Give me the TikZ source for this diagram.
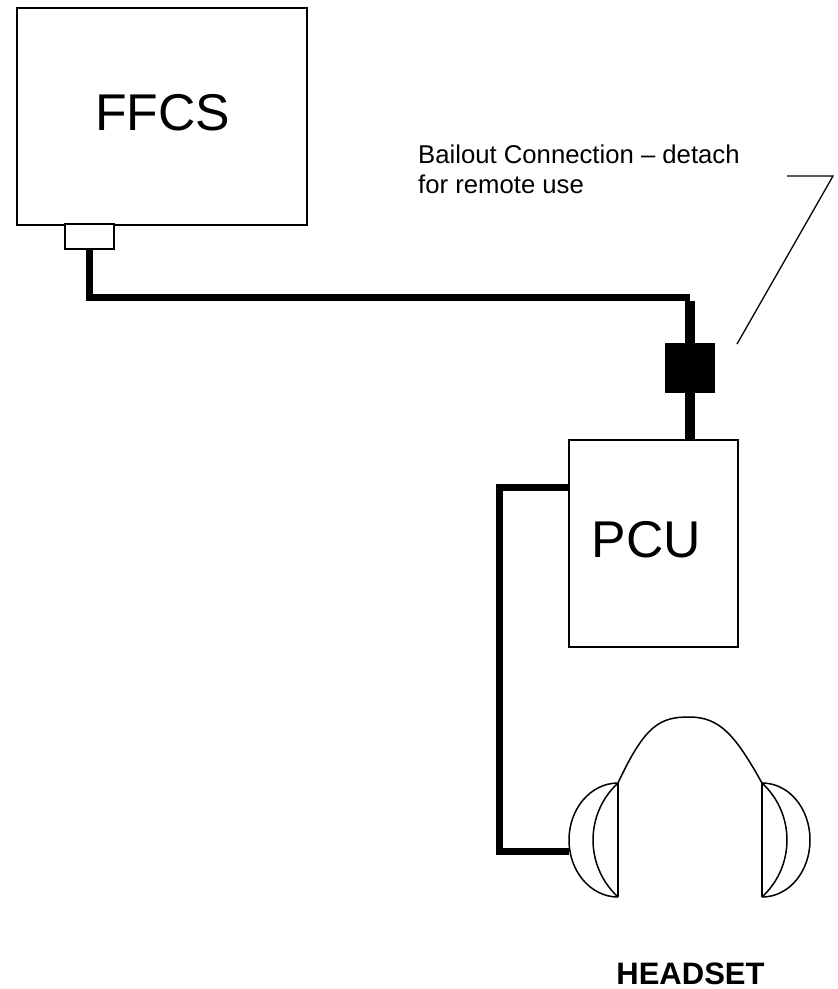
\documentclass[tikz,border=0pt]{standalone}
\usepackage{fontspec}
\setmainfont{Liberation Sans}
\begin{document}
\begin{tikzpicture}[x=1pt,y=-1pt,
  box/.style={draw,line width=1.5pt,fill=white,inner sep=0pt,outer sep=0pt},
  cable/.style={line width=7pt},
  thin/.style={line width=1.3pt},
  phone/.style={line width=1.5pt},
  big/.style={inner sep=0pt,font=\fontsize{51.7}{60}\selectfont},
  note/.style={inner sep=0pt,font=\fontsize{25.7}{30}\selectfont},
  title/.style={inner sep=0pt,font=\bfseries\fontsize{31}{36}\selectfont}]
\useasboundingbox (0,0) rectangle (838,989);
% boxes
\node[box,minimum width=290pt,minimum height=217pt] (ffcs) at (162,116.5) {};
\node[big,anchor=base] (ffcstext) at (162.5,130) {FFCS};
\node[box,minimum width=49pt,minimum height=25pt] (plug) at (89.5,236.5) {};
\node[box,minimum width=169pt,minimum height=207pt] (pcu) at (653.5,543.5) {};
\node[big,anchor=base] (pcutext) at (646.5,557) {PCU};
\node[fill=black,inner sep=0pt,outer sep=0pt,minimum width=50pt,minimum height=50pt] (bailout) at (690,368) {};
% main cable
\coordinate (bend) at (690,297);
\draw[cable] (plug.south) |- (bend);
\draw[line width=10pt] ([yshift=-3.5pt]bend) -- (bailout.north);
\draw[line width=10pt] (bailout.south) -- (bailout.south |- pcu.north);
% note
\node[note,anchor=base west] (note1) at (418,163) {Bailout Connection – detach};
\node[note,anchor=base west] (note2) at (418,193) {for remote use};
\coordinate (leadA) at (787,176);
\coordinate (leadB) at (833,176);
\coordinate (leadC) at (737,344);
\draw[thin] (leadA) -- (leadB) -- (leadC);
% headset
\coordinate (lt) at (618,783);
\coordinate (lb) at (618,897);
\coordinate (rt) at (762,783);
\coordinate (rb) at (762,897);
\coordinate (top) at (689,717);
\draw[phone] (lt) -- (lb);
\draw[phone] (lt) .. controls (590.9,783) and (569,808.5) .. (569,840)
  .. controls (569,871.5) and (590.9,897) .. (lb);
\draw[phone] (lt) .. controls (584.7,813.7) and (584.7,866.3) .. (lb);
\draw[phone] (rt) -- (rb);
\draw[phone] (rt) .. controls (789,783) and (810,808.5) .. (810,840)
  .. controls (810,871.5) and (789,897) .. (rb);
\draw[phone] (rt) .. controls (795.3,813.7) and (795.3,866.3) .. (rb);
\draw[phone] (lt) .. controls (645,725) and (660,717) .. (top)
  .. controls (720,717) and (735,735) .. (rt);
\node[title,anchor=base] (headset) at (690.5,984) {HEADSET};
% headset cable
\coordinate (pcuport) at (569,487);
\coordinate (earport) at (569,851);
\draw[cable] (pcuport) -- ++(-70,0) |- (earport);
\end{tikzpicture}
\end{document}
